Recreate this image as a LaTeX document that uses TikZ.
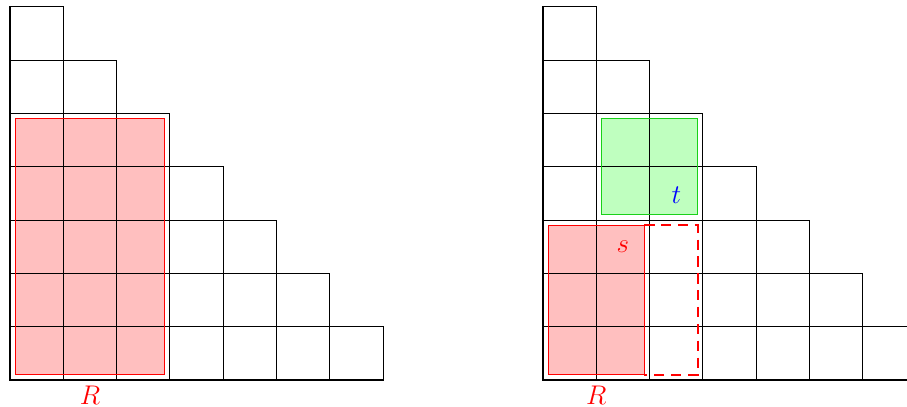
\documentclass[tikz,border=0pt]{standalone}
\begin{document}
\begin{tikzpicture}[x=1cm,y=1cm,
  gridline/.style={black,line width=0.6pt},
  redfill/.style={fill=red!25},
  greenfill/.style={fill=green!25},
  redborder/.style={draw=red,line width=0.6pt},
  greenborder/.style={draw=green!80!black!90,line width=0.6pt},
  dashborder/.style={draw=red,dash pattern=on 5.5pt off 3.5pt,line width=1pt},
  lab/.style={font=\fontsize{14.5}{17}\selectfont,inner sep=0pt}]
\useasboundingbox (-0.1876,-0.5066) rectangle (16.829,7.129);
% fills
\fill[redfill] (0.1,0.1) rectangle (2.9,4.9);
\begin{scope}[xshift=10cm]
\fill[greenfill] (1.1,3.1) rectangle (2.9,4.9);
\fill[redfill] (0.1,0.1) rectangle (1.9,2.9);
\end{scope}
% grids
\foreach \ox in {0,10}{
  \foreach \i in {0,...,6}{
    \pgfmathtruncatemacro{\n}{6-\i}
    \foreach \j in {0,...,\n}{
      \draw[gridline] (\ox+\j,\i) rectangle ++(1,1);
    }
  }
}
% borders
\draw[redborder] (0.1,0.1) rectangle (2.9,4.9);
\node[lab,text=red] (R1) at (1.5,-0.28) {$R$};
\begin{scope}[xshift=10cm]
\draw[greenborder] (1.1,3.1) rectangle (2.9,4.9);
\coordinate (d1) at (1.9,2.9);
\coordinate (d2) at (2.9,2.9);
\coordinate (d3) at (2.9,0.1);
\coordinate (d4) at (1.9,0.1);
\draw[dashborder] (d1) -- (d2) -- (d3) -- (d4);
\draw[redborder] (0.1,0.1) rectangle (1.9,2.9);
\node[lab,text=blue] (t) at (2.5,3.47) {$t$};
\node[lab,text=red] (s) at (1.5,2.5) {$s$};
\node[lab,text=red] (R2) at (1.0,-0.28) {$R$};
\end{scope}
\end{tikzpicture}
\end{document}
